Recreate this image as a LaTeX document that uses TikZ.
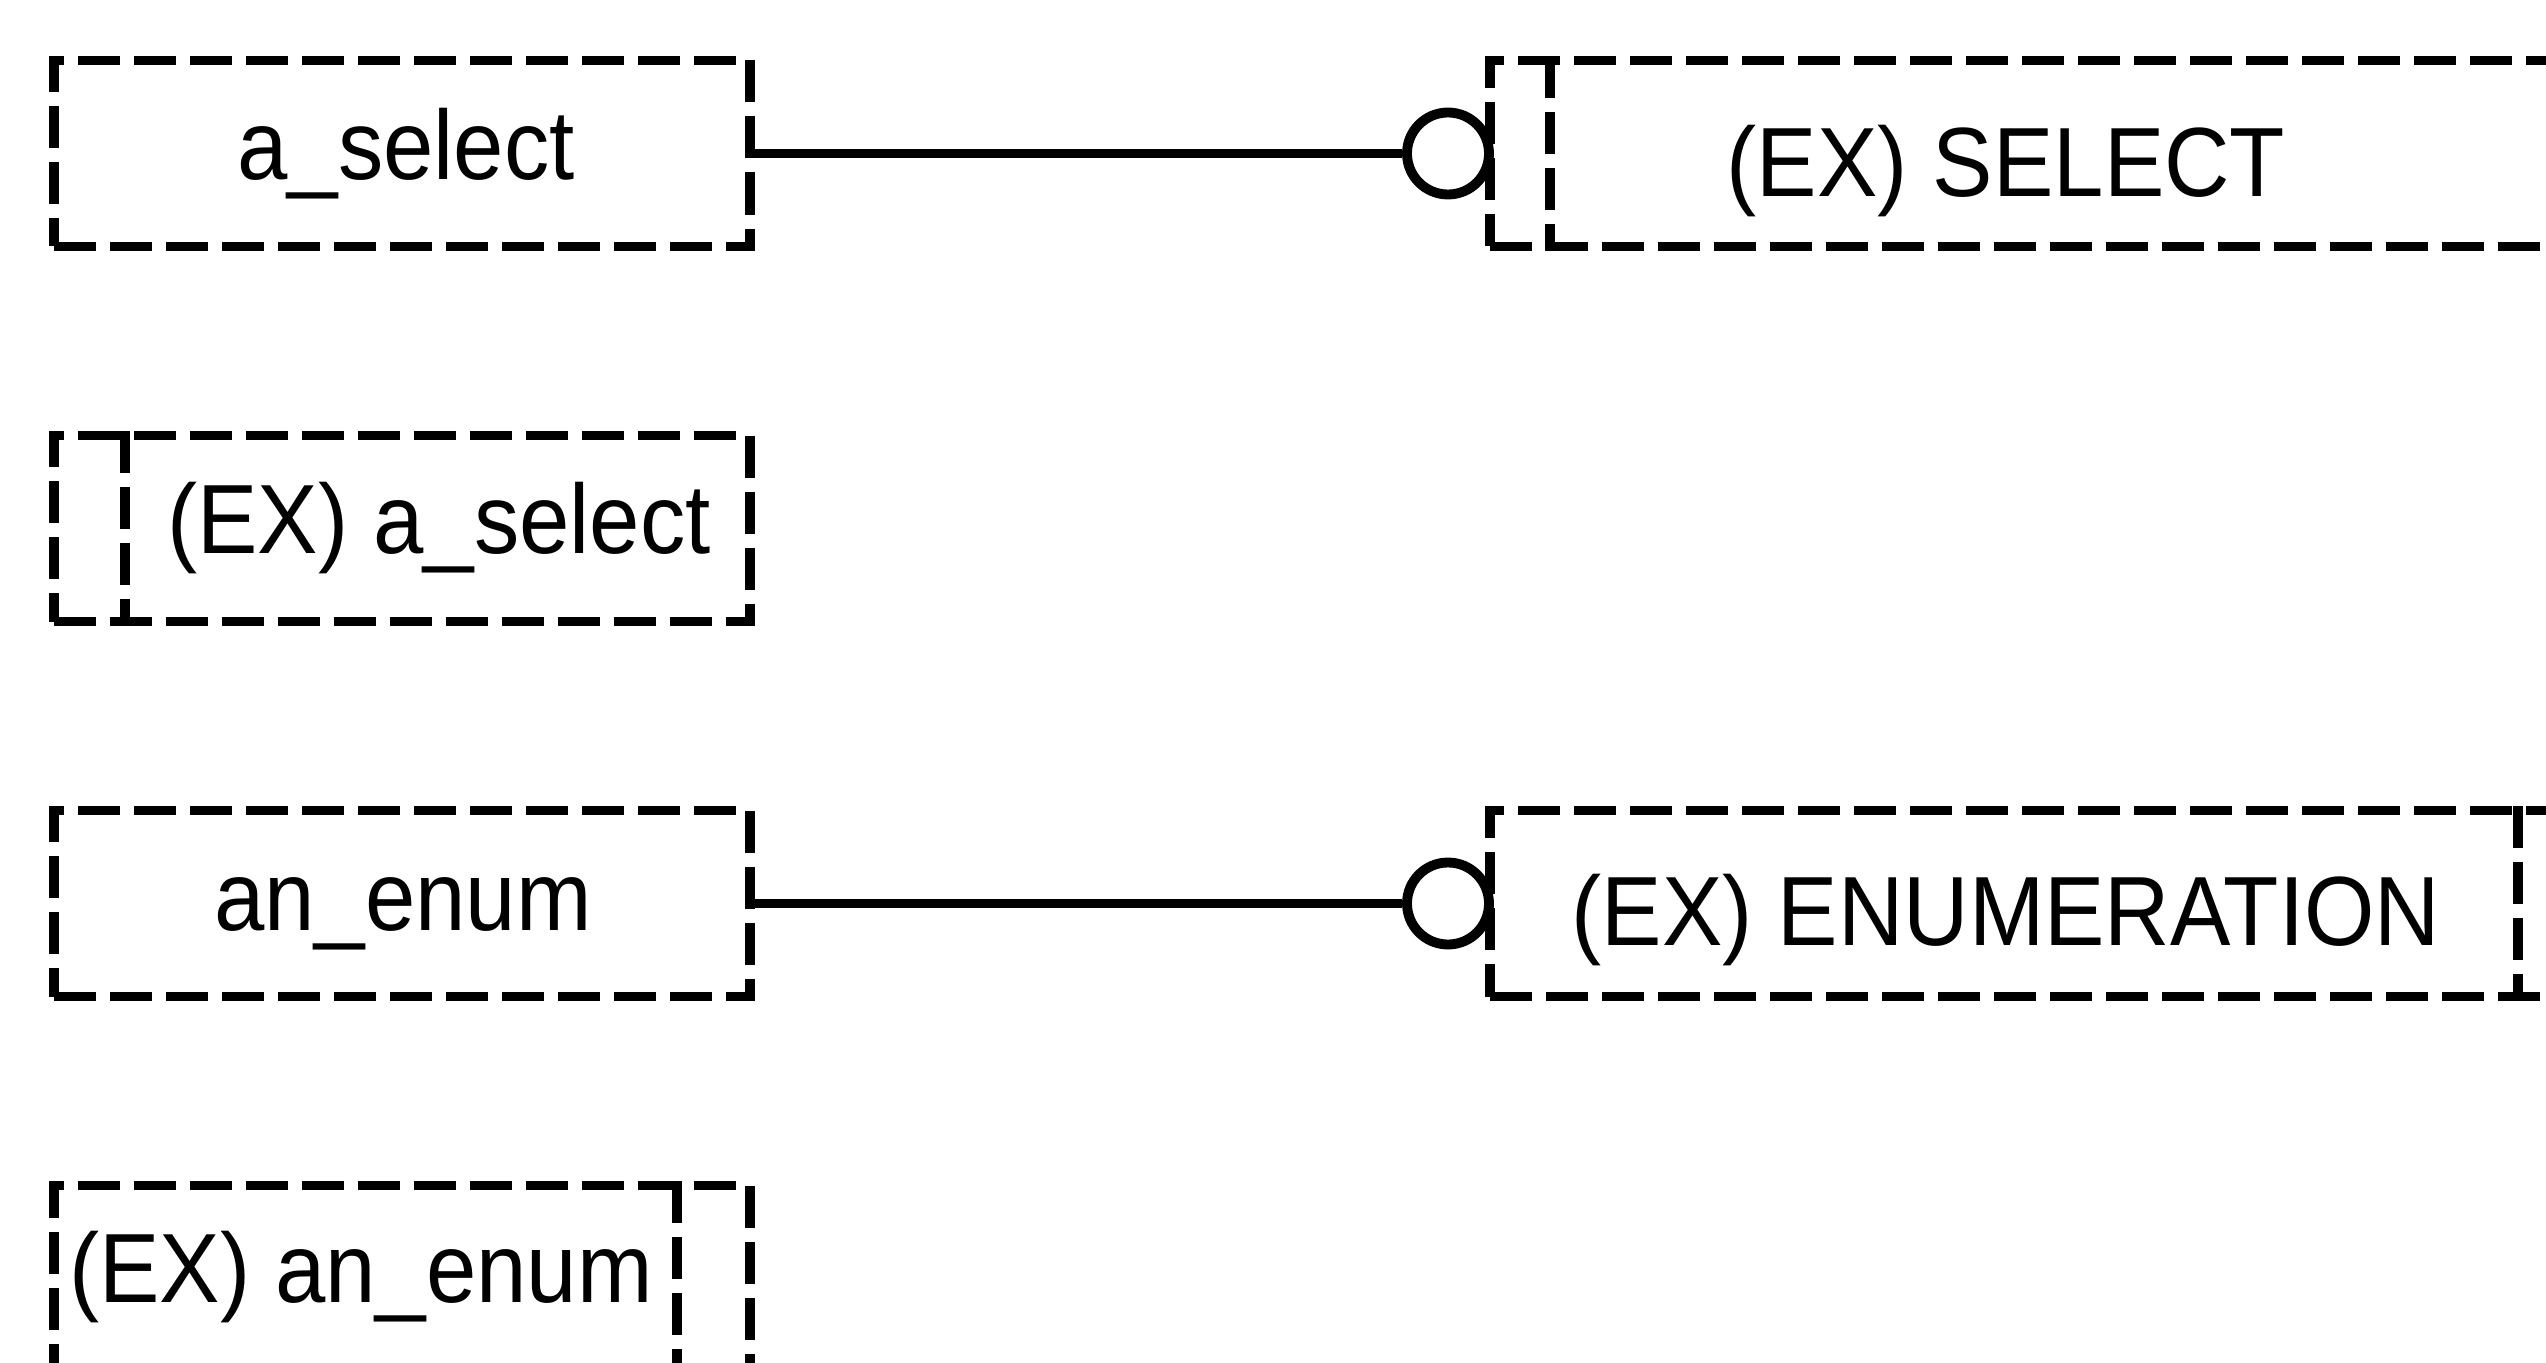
\documentclass[tikz,border=0pt]{standalone}
\usepackage{fontspec}
\setmainfont{Liberation Sans}[FakeStretch=0.92]
\usepackage{tikz}

\begin{document}
\begin{tikzpicture}
  [box/.style={draw, line width=2.8pt, dash pattern=on 0.42cm off 0.14cm, minimum height=1.86cm, inner sep=0pt},
   leftbox/.style={box, minimum width=6.96cm},
   rightbox/.style={box, minimum width=10.9cm},
   innerline/.style={line width=2.8pt, dash pattern=on 0.42cm off 0.14cm},
   ring/.style={draw, circle, line width=2.8pt, minimum size=0.82cm, inner sep=0pt},
   conn/.style={line width=2.8pt},
   lbl/.style={anchor=base, inner sep=0pt, font=\fontsize{28}{32}\selectfont}]
  \useasboundingbox (0,0) rectangle (25.46,-13.63);

  % boxes
  \node[leftbox] (asel) at (4.02,-1.535) {};
  \node[rightbox] (exsel) at (20.35,-1.535) {};
  \node[leftbox] (exasel) at (4.02,-5.285) {};
  \node[leftbox] (anenum) at (4.02,-9.035) {};
  \node[rightbox] (exenum) at (20.35,-9.035) {};
  \node[leftbox] (exanenum) at (4.02,-12.785) {};

  % inner lines of the (EX) boxes
  \draw[innerline] ([xshift=0.65cm]exsel.north west) -- ([xshift=0.65cm]exsel.south west);
  \draw[innerline] ([xshift=0.76cm]exasel.north west) -- ([xshift=0.76cm]exasel.south west);
  \draw[innerline] ([xshift=-0.67cm]exenum.north east) -- ([xshift=-0.67cm]exenum.south east);
  \draw[innerline] ([xshift=-0.78cm]exanenum.north east) -- ([xshift=-0.78cm]exanenum.south east);

  % labels
  \node[lbl] (aseltxt) at (4.06,-1.80) {a\_select};
  \node[lbl] (exseltxt) at (20.06,-1.97) {(EX) SELECT};
  \node[lbl] (exaseltxt) at (4.39,-5.53) {(EX) a\_select};
  \node[lbl] (anenumtxt) at (4.03,-9.30) {an\_enum};
  \node[lbl] (exenumtxt) at (20.06,-9.45) {(EX) ENUMERATION};
  \node[lbl] (exanenumtxt) at (3.61,-13.02) {(EX) an\_enum};

  % connectors
  \node[ring] (c1) at (14.48,-1.535) {};
  \node[ring] (c2) at (14.48,-9.035) {};
  \draw[conn] (asel.east) -- (c1.west);
  \draw[conn] (anenum.east) -- (c2.west);
\end{tikzpicture}
\end{document}
